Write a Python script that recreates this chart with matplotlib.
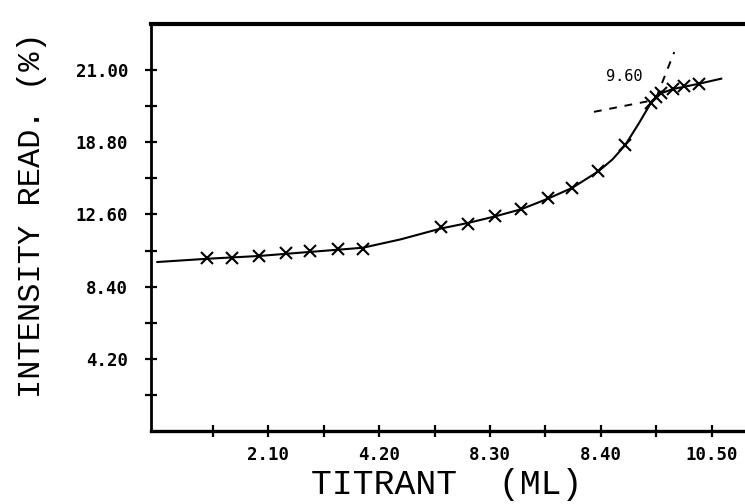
import matplotlib
matplotlib.use('Agg')
import matplotlib.pyplot as plt

# titration readings
titrant_ml = [0.95, 1.42, 1.92, 2.43, 2.90, 3.42, 3.89,
              5.37, 5.88, 6.39, 6.89, 7.40, 7.86, 8.35, 8.86,
              9.35, 9.45, 9.54, 9.77, 9.98, 10.25]
intensity = [10.06, 10.04, 10.19, 10.34, 10.49, 10.58, 10.61,
             11.87, 12.02, 12.52, 12.90, 13.57, 14.13, 15.15, 16.63,
             19.10, 19.45, 19.67, 19.90, 20.10, 20.20]

# fitted curve as drawn on the plot
curve_x = [0.0, 0.95, 1.92, 2.90, 3.89, 4.61, 5.37, 5.88, 6.39, 6.89,
           7.40, 7.86, 8.35, 8.62, 8.86, 9.12, 9.35, 9.54, 9.77, 10.25, 10.68]
curve_y = [9.83, 10.02, 10.18, 10.42, 10.66, 11.15, 11.78, 12.10, 12.48, 12.90,
           13.52, 14.15, 15.10, 15.80, 16.63, 17.90, 19.10, 19.65, 19.90, 20.20, 20.50]

# tangent lines at the end point
tan1_x = [8.27, 9.35]
tan1_y = [18.57, 19.22]
tan2_x = [9.45, 9.79]
tan2_y = [19.40, 22.05]
end_label = '9.60'
end_pos = (8.84, 20.6)

xticks_major = [2.1, 4.2, 6.3, 8.4, 10.5]
xtick_labels = ['2.10', '4.20', '8.30', '8.40', '10.50']
xticks_minor = [1.05, 3.15, 5.25, 7.35, 9.45]
yticks_major = [4.2, 8.4, 12.6, 16.8, 21.0]
ytick_labels = ['4.20', '8.40', '12.60', '18.80', '21.00']
yticks_minor = [2.1, 6.3, 10.5, 14.7, 18.9]

fig = plt.figure(figsize=(7.45, 5.04), dpi=100)
ax = fig.add_axes([151 / 745, 0.145, 1 - 151 / 745, 0.808])

ax.plot(curve_x, curve_y, color='black', lw=1.5)
ax.plot(titrant_ml, intensity, ls='none', marker='x', ms=8.5, mew=1.5, color='black')
ax.plot(tan1_x, tan1_y, color='black', lw=1.4, ls=(0, (4, 4)))
ax.plot(tan2_x, tan2_y, color='black', lw=1.4, ls=(0, (4, 4)))
ax.text(end_pos[0], end_pos[1], end_label, ha='center', va='center',
        fontsize=11, family='DejaVu Sans Mono')

ax.set_xlim(-0.12, 11.13)
ax.set_ylim(0, 23.7)

ax.set_xticks(xticks_major)
ax.set_xticklabels(xtick_labels)
ax.set_xticks(xticks_minor, minor=True)
ax.set_yticks(yticks_major)
ax.set_yticklabels(ytick_labels)
ax.set_yticks(yticks_minor, minor=True)

for lab in ax.get_xticklabels() + ax.get_yticklabels():
    lab.set_family('DejaVu Sans Mono')
    lab.set_fontweight('bold')
    lab.set_fontsize(12.5)

ax.tick_params(which='both', direction='inout', length=9, width=1.6, color='black')
ax.tick_params(axis='x', pad=6)
ax.tick_params(axis='y', pad=12)

ax.spines['right'].set_visible(False)
ax.spines['left'].set_linewidth(2.0)
ax.spines['bottom'].set_linewidth(2.4)
ax.spines['top'].set_linewidth(3.0)

fig.text(0.043, 0.573, 'INTENSITY READ. (%)', rotation=90, ha='center', va='center',
         fontsize=23, family='Liberation Mono')
fig.text(0.599, 0.038, 'TITRANT  (ML)', ha='center', va='center',
         fontsize=25, family='Liberation Mono')

fig.savefig('out.png', dpi=100)
